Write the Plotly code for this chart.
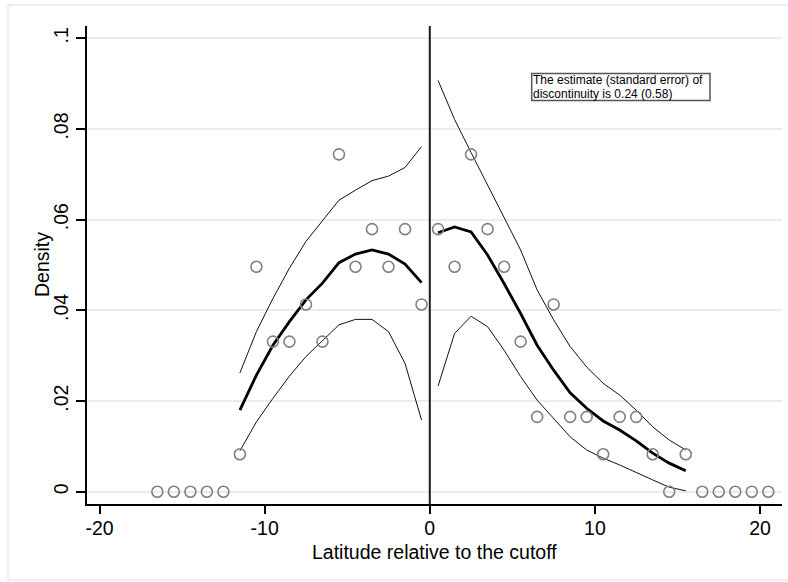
import plotly.graph_objects as go

# ---------------- data ----------------
bin_x = [-16.5, -15.5, -14.5, -13.5, -12.5, -11.5, -10.5, -9.5, -8.5, -7.5, -6.5, -5.5,
         -4.5, -3.5, -2.5, -1.5, -0.5, 0.5, 1.5, 2.5, 3.5, 4.5, 5.5, 6.5, 7.5, 8.5,
         9.5, 10.5, 11.5, 12.5, 13.5, 14.5, 15.5, 16.5, 17.5, 18.5, 19.5, 20.5]
bin_density = [0, 0, 0, 0, 0, 0.00826, 0.0496, 0.0331, 0.0331, 0.0413, 0.0331, 0.0744,
               0.0496, 0.0579, 0.0496, 0.0579, 0.0413, 0.0579, 0.0496, 0.0744, 0.0579,
               0.0496, 0.0331, 0.0165, 0.0413, 0.0165, 0.0165, 0.00826, 0.0165, 0.0165,
               0.00826, 0, 0.00826, 0, 0, 0, 0, 0]

left_x = [-11.5, -10.5, -9.5, -8.5, -7.5, -6.5, -5.5, -4.5, -3.5, -2.5, -1.5, -0.5]
left_fit = [0.0180, 0.0257, 0.0323, 0.0375, 0.0423, 0.0460, 0.0505, 0.0524, 0.0533,
            0.0524, 0.0502, 0.0461]
left_hi = [0.0262, 0.0353, 0.0426, 0.0493, 0.0552, 0.0597, 0.0643, 0.0665, 0.0686,
           0.0696, 0.0715, 0.0761]
left_lo = [0.0090, 0.0154, 0.0206, 0.0255, 0.0298, 0.0334, 0.0368, 0.0380, 0.0380,
           0.0353, 0.0283, 0.0158]

right_x = [0.5, 1.5, 2.5, 3.5, 4.5, 5.5, 6.5, 7.5, 8.5, 9.5, 10.5, 11.5, 12.5, 13.5,
           14.5, 15.5]
right_fit = [0.0571, 0.0584, 0.0573, 0.0522, 0.0459, 0.0393, 0.0323, 0.0268, 0.0218,
             0.0184, 0.0156, 0.0136, 0.0112, 0.0085, 0.0063, 0.0046]
right_hi = [0.0907, 0.0821, 0.0748, 0.0677, 0.0605, 0.0533, 0.0445, 0.0379, 0.0320,
            0.0275, 0.0239, 0.0213, 0.0180, 0.0143, 0.0114, 0.0092]
right_lo = [0.0233, 0.0349, 0.0387, 0.0364, 0.0312, 0.0254, 0.0202, 0.0162, 0.0121,
            0.0092, 0.0074, 0.0059, 0.0042, 0.0026, 0.0010, 0.0002]

y_ticks = [0, 0.02, 0.04, 0.06, 0.08, 0.1]
y_tick_labels = ["0", ".02", ".04", ".06", ".08", ".1"]
x_ticks = [-20, -10, 0, 10, 20]
x_tick_labels = ["-20", "-10", "0", "10", "20"]

note_lines = ["The estimate (standard error) of", "discontinuity is 0.24 (0.58)"]
x_title = "Latitude relative to the cutoff"
y_title = "Density"

# ---------------- layout geometry ----------------
W, H = 788, 582
L, R, T, B = 87, 6, 26, 78
X_RANGE = [-20.76, 21.33]
Y_RANGE = [-0.00271, 0.1027]
FONT = "Liberation Sans, Arial, sans-serif"

pw, ph = W - L - R, H - T - B


def px_x(p):  # pixel -> paper x
    return (p - L) / pw


def px_y(p):  # pixel -> paper y
    return (H - B - p) / ph


fig = go.Figure()

thin = dict(color="#111111", width=1)
for xs, ys in [(left_x, left_hi), (left_x, left_lo), (right_x, right_hi), (right_x, right_lo)]:
    fig.add_trace(go.Scatter(x=xs, y=ys, mode="lines", line=thin, hoverinfo="skip"))
for xs, ys in [(left_x, left_fit), (right_x, right_fit)]:
    fig.add_trace(go.Scatter(x=xs, y=ys, mode="lines", line=dict(color="black", width=2.8)))

fig.add_trace(go.Scatter(
    x=bin_x, y=bin_density, mode="markers",
    marker=dict(symbol="circle-open", size=11, color="#808080", line=dict(width=1.6, color="#808080")),
))

shapes = [
    # cutoff line
    dict(type="line", xref="x", yref="paper", x0=0, x1=0, y0=0, y1=1,
         line=dict(color="#1a1a1a", width=2)),
    # note box
    dict(type="rect", xref="paper", yref="paper", x0=px_x(531.7), x1=px_x(710),
         y0=px_y(100.5), y1=px_y(73.5), line=dict(color="#555555", width=1.5),
         fillcolor="rgba(255,255,255,0)"),
    # outer graph region frame
    dict(type="rect", xref="paper", yref="paper", x0=px_x(8), x1=px_x(789),
         y0=px_y(580), y1=px_y(5), line=dict(color="#e4ecef", width=1.5), layer="below"),
]

annotations = [
    dict(text=note_lines[0], xref="paper", yref="paper", x=px_x(532.5), y=px_y(86.7),
         xanchor="left", yanchor="bottom", showarrow=False, borderpad=0, borderwidth=0,
         font=dict(family=FONT, size=12, color="black")),
    dict(text=note_lines[1], xref="paper", yref="paper", x=px_x(532.5), y=px_y(87.3),
         xanchor="left", yanchor="top", showarrow=False, borderpad=0, borderwidth=0,
         font=dict(family=FONT, size=12, color="black")),
    dict(text=x_title, xref="paper", yref="paper", x=px_x(434), y=px_y(552),
         xanchor="center", yanchor="middle", showarrow=False, borderpad=0,
         font=dict(family=FONT, size=19.5, color="black")),
    dict(text=y_title, xref="paper", yref="paper", x=px_x(42), y=px_y(265),
         xanchor="center", yanchor="middle", showarrow=False, textangle=-90,
         font=dict(family=FONT, size=19.5, color="black")),
]

fig.update_layout(
    width=W, height=H,
    margin=dict(l=L, r=R, t=T, b=B, pad=0),
    paper_bgcolor="white", plot_bgcolor="white",
    showlegend=False,
    font=dict(family=FONT, size=19.5, color="black"),
    shapes=shapes, annotations=annotations,
    xaxis=dict(range=X_RANGE, tickmode="array", tickvals=x_ticks, ticktext=x_tick_labels,
               showgrid=False, zeroline=False, showline=True, linecolor="black", linewidth=1.5,
               ticks="outside", ticklen=8, tickwidth=1.5, tickcolor="black",
               ticklabelstandoff=-2,
               tickfont=dict(family=FONT, size=19.5, color="black")),
    yaxis=dict(range=Y_RANGE, tickmode="array", tickvals=y_ticks, ticktext=y_tick_labels,
               showgrid=True, gridcolor="#e6eef0", gridwidth=1.5, zeroline=False,
               showline=True, linecolor="black", linewidth=1.5,
               ticks="outside", ticklen=9, tickwidth=1.5, tickcolor="black", tickangle=-90,
               tickfont=dict(family=FONT, size=19.5, color="black")),
)

fig.write_html("out.html")
